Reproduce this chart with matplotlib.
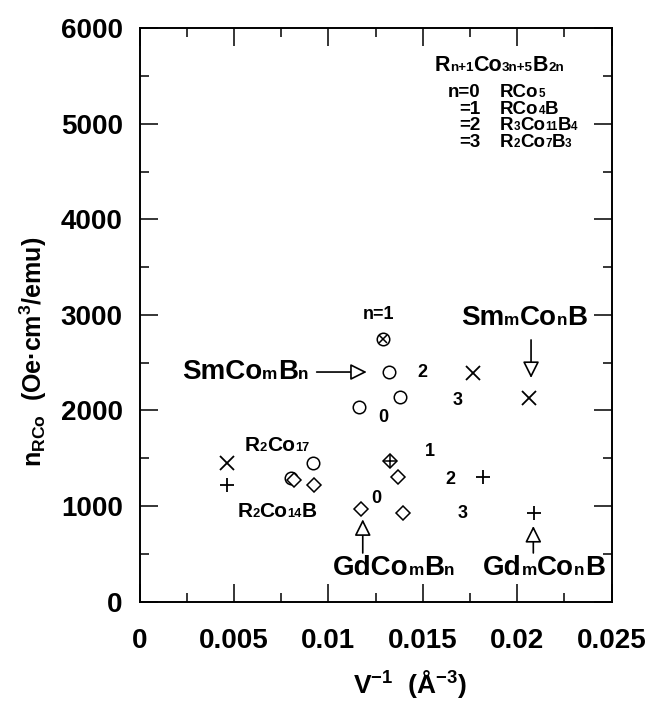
import re
import numpy as np
import matplotlib
matplotlib.use('Agg')
import matplotlib.pyplot as plt
from matplotlib.ticker import MultipleLocator
from matplotlib.offsetbox import TextArea, HPacker, AnnotationBbox

# fonts: Helvetica-like bold for everything, also inside math text
plt.rcParams['font.family'] = ['Liberation Sans', 'DejaVu Sans']
plt.rcParams['font.weight'] = 'bold'
plt.rcParams['mathtext.fontset'] = 'custom'
plt.rcParams['mathtext.rm'] = 'Liberation Sans:bold'
plt.rcParams['mathtext.it'] = 'Liberation Sans:bold'
plt.rcParams['mathtext.bf'] = 'Liberation Sans:bold'

# data
circle_x = [0.00917, 0.0080, 0.01289, 0.01321, 0.01162, 0.01379]
circle_y = [1450, 1290, 2748, 2402, 2036, 2141]
diamond_x = [0.0082, 0.00924, 0.01173, 0.01326, 0.01368, 0.01395]
diamond_y = [1272, 1220, 968, 1471, 1303, 926]
cross_x = [0.00462, 0.01766, 0.02062]
cross_y = [1450, 2392, 2130]
plus_x = [0.00462, 0.01819, 0.02089]
plus_y = [1220, 1303, 926]
# markers drawn inside another one
crossed_circle_x = [0.01289]
crossed_circle_y = [2748]
crossed_diamond_x = [0.01326]
crossed_diamond_y = [1471]

x_ticks = [0, 0.005, 0.01, 0.015, 0.02, 0.025]
x_ticklabels = ['0', '0.005', '0.01', '0.015', '0.02', '0.025']
y_ticks = [0, 1000, 2000, 3000, 4000, 5000, 6000]
y_ticklabels = ['0', '1000', '2000', '3000', '4000', '5000', '6000']

# n labels next to the points
n_labels = ['0', '2', '3', '1', '2', '3', '0']
n_label_x = [0.01289, 0.01496, 0.01686, 0.01538, 0.01644, 0.01713, 0.01252]
n_label_y = [1921, 2402, 2109, 1565, 1282, 926, 1083]

legend_title = 'R_{n+1}Co_{3n+5}B_{2n}'
legend_n = ['n=0', '=1', '=2', '=3']
legend_formula = ['RCo_{5}', 'RCo_{4}B', 'R_{3}Co_{11}B_{4}', 'R_{2}Co_{7}B_{3}']
legend_y = [5323, 5145, 4978, 4800]


def formula(ax, x, y, s, size, xalign=0.5):
    # small subscripts sitting on the baseline, as in the original typesetting
    parts = re.split(r'_\{([^}]*)\}', s)
    boxes = []
    for i, p in enumerate(parts):
        if p == '':
            continue
        fs = size * 0.62 if i % 2 else size
        boxes.append(TextArea(p, textprops=dict(fontsize=fs, fontweight='bold')))
    pack = HPacker(children=boxes, align='baseline', pad=0, sep=0)
    ab = AnnotationBbox(pack, (x, y), xycoords='data', box_alignment=(xalign, 0.5),
                        frameon=False, pad=0)
    ax.add_artist(ab)


fig = plt.figure(figsize=(6.5, 7.03), dpi=100)
ax = fig.add_axes([139.5 / 650, 1 - 601.5 / 703, 472.2 / 650, 573.2 / 703])

ax.plot(circle_x, circle_y, 'o', ms=9, mfc='none', mec='black', mew=1.1)
ax.plot(diamond_x, diamond_y, 'D', ms=7, mfc='white', mec='black', mew=1.1)
ax.plot(cross_x, cross_y, 'x', ms=10.5, mec='black', mew=1.3)
ax.plot(plus_x, plus_y, '+', ms=10.5, mec='black', mew=1.3)
ax.plot(crossed_circle_x, crossed_circle_y, 'x', ms=6, mec='black', mew=1.1)
ax.plot(crossed_diamond_x, crossed_diamond_y, '+', ms=8, mec='black', mew=1.1)

for t, x, y in zip(n_labels, n_label_x, n_label_y):
    ax.text(x, y, t, fontsize=13, ha='center', va='center')

ax.text(0.01263, 3000, 'n=1', fontsize=13, ha='center', va='center')
formula(ax, 0.00728, 1638, 'R_{2}Co_{17}', 15)
formula(ax, 0.00728, 937, 'R_{2}Co_{14}B', 15)

# compound family labels with hollow arrow heads
arrow = dict(arrowstyle='-|>,head_length=0.5,head_width=0.25', fc='white', ec='black',
             lw=1.2, mutation_scale=20, shrinkA=0, shrinkB=0)
formula(ax, 0.00559, 2402, 'SmCo_{m}B_{n}', 20)
ax.annotate('', xy=(0.01203, 2402), xytext=(0.00938, 2402), arrowprops=arrow)
formula(ax, 0.02035, 2967, 'Sm_{m}Co_{n}B', 20)
ax.annotate('', xy=(0.02073, 2340), xytext=(0.02073, 2738), arrowprops=arrow)
formula(ax, 0.01348, 351, 'GdCo_{m}B_{n}', 20)
ax.annotate('', xy=(0.01182, 860), xytext=(0.01182, 508), arrowprops=arrow)
formula(ax, 0.02142, 351, 'Gd_{m}Co_{n}B', 20)
ax.annotate('', xy=(0.02085, 790), xytext=(0.02085, 508), arrowprops=arrow)

# formula key in the upper right
formula(ax, 0.01905, 5615, legend_title, 15.5)
for n, f, y in zip(legend_n, legend_formula, legend_y):
    ax.text(0.01803, y, n, fontsize=13.5, ha='right', va='center')
    formula(ax, 0.01909, y, f, 13.5, xalign=0.0)

ax.set_xlim(0, 0.025)
ax.set_ylim(0, 6000)
ax.set_xticks(x_ticks)
ax.set_xticklabels(x_ticklabels)
ax.set_yticks(y_ticks)
ax.set_yticklabels(y_ticklabels)
ax.xaxis.set_minor_locator(MultipleLocator(0.0025))
ax.yaxis.set_minor_locator(MultipleLocator(500))
ax.tick_params(which='both', direction='in', top=True, right=True, width=1.1)
ax.tick_params(which='major', length=13, labelsize=20)
ax.tick_params(which='minor', length=6.5)
ax.tick_params(axis='x', pad=19)
ax.tick_params(axis='y', pad=12)
for s in ax.spines.values():
    s.set_linewidth(1.4)

fig.text(410 / 650, 1 - 684 / 703, r'V$^{-1}$  (Å$^{-3}$)', fontsize=19, ha='center', va='center')
fig.text(33 / 650, 1 - 352 / 703, r'n$_{\mathrm{RCo}}$  (Oe·cm$^{3}$/emu)', fontsize=18,
         ha='center', va='center', rotation=90)

fig.savefig('out.png', dpi=100)
